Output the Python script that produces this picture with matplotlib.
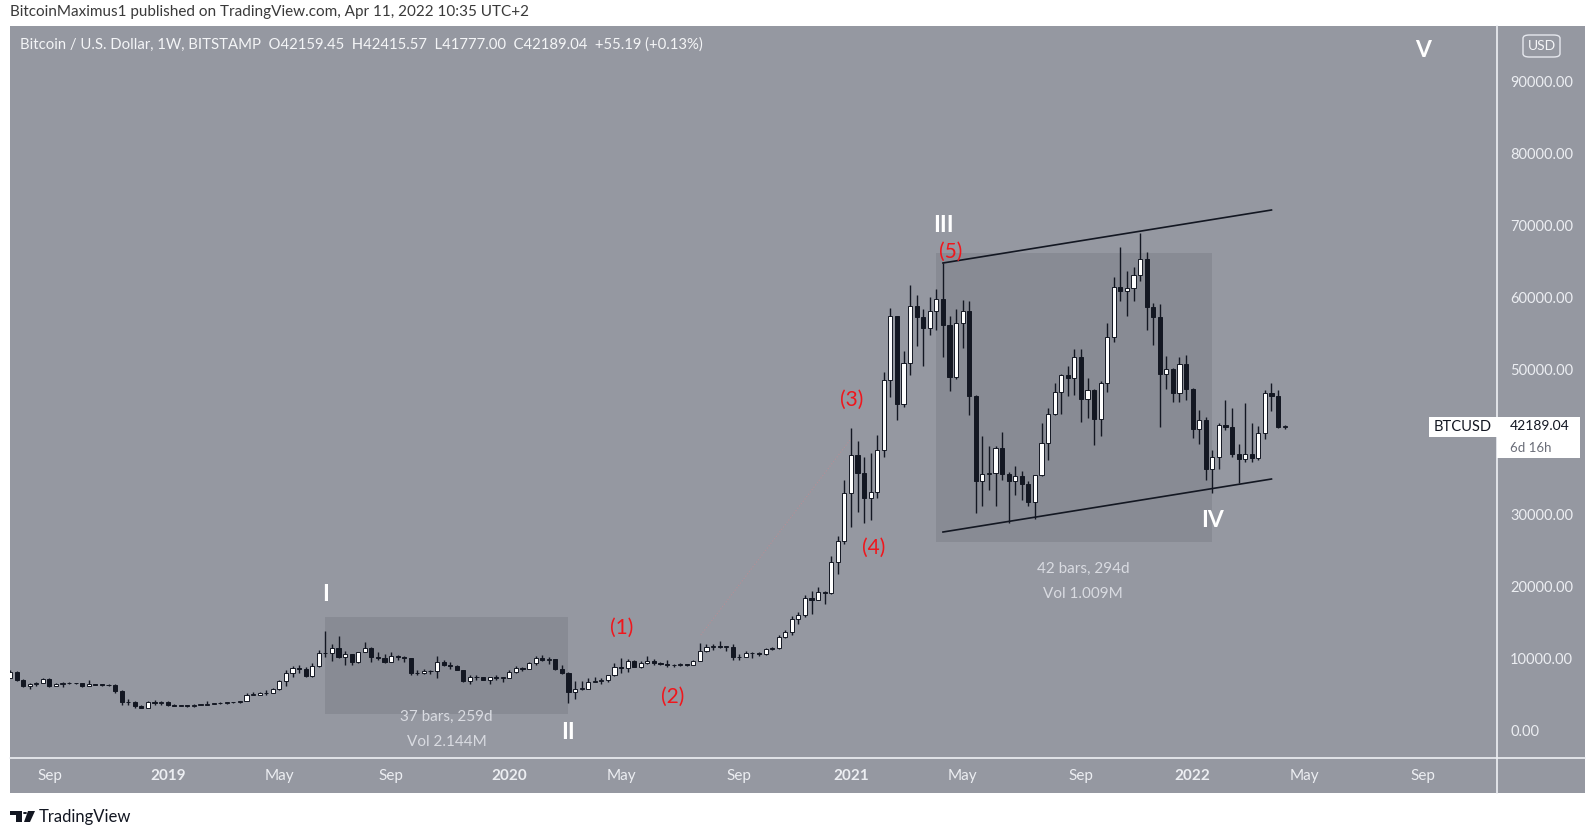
import matplotlib
matplotlib.use("Agg")
import matplotlib.pyplot as plt
import matplotlib.dates as mdates
from matplotlib.patches import Rectangle, FancyBboxPatch, Polygon, Circle
from matplotlib.lines import Line2D
import pandas as pd

plt.rcParams['font.family'] = ['Lato', 'DejaVu Sans']

# weekly BTCUSD candles (Bitstamp), first week starts 2018-07-23
start_week = "2018-07-23"
opens = [7400, 8200, 7030, 6300, 6450, 6700, 7270, 6250, 6500, 6700,
         6600, 6580, 6300, 6450, 6410, 6400, 6350, 5550, 3950, 4000,
         3400, 3230, 3950, 3850, 4050, 3550, 3530, 3540, 3410, 3630,
         3660, 3800, 3850, 3900, 3980, 3980, 4120, 5050, 5050, 5300,
         5250, 5750, 6980, 8100, 8700, 8650, 7650, 8950, 10750, 10850,
         11500, 10200, 10650, 9500, 10950, 11550, 10300, 10150, 9600, 10450,
         10300, 10050, 8050, 8000, 8350, 8250, 9550, 9200, 9050, 8500,
         6900, 7450, 7500, 7100, 7450, 7350, 7400, 8200, 8700, 8650,
         9350, 10150, 9900, 9950, 8550, 8050, 5400, 5880, 5880, 6770,
         6900, 7100, 7700, 8800, 8750, 9650, 8900, 9450, 9700, 9400,
         9300, 9150, 9100, 9250, 9200, 9700, 11050, 11650, 11750, 11650,
         11700, 10250, 10300, 10800, 10750, 10650, 11350, 11500, 13050, 13750,
         15450, 16000, 18400, 18200, 19300, 19150, 23450, 26250, 33000, 38200,
         35800, 32300, 33100, 38900, 48600, 57500, 45250, 50950, 58900, 57350,
         55800, 58200, 59850, 56250, 49050, 56550, 58200, 46400, 34600, 35600,
         35750, 39150, 35650, 34650, 35250, 34250, 31750, 35450, 39900, 43900,
         46900, 49300, 48850, 51800, 46000, 47250, 43200, 48200, 54600, 61500,
         60900, 61350, 63200, 65400, 58700, 57300, 49450, 50100, 46800, 50800,
         47350, 41850, 43100, 36300, 37950, 42450, 42100, 38300, 37700, 38400,
         37800, 41250, 46800, 46400, 42159.45]
highs = [8500, 8270, 7150, 6600, 6800, 7300, 7400, 6600, 6800, 6800,
         6650, 6700, 7000, 6500, 6480, 6550, 6480, 5630, 4400, 4150,
         3600, 4200, 4250, 4100, 4100, 3720, 3620, 3560, 3700, 3700,
         4200, 3900, 3950, 4000, 4070, 4150, 5300, 5450, 5360, 5650,
         5900, 7000, 8400, 8950, 9100, 8800, 9350, 11200, 13880, 12000,
         13200, 11100, 10700, 11000, 12300, 11600, 10950, 10600, 10900, 10500,
         10350, 10100, 8500, 8650, 8450, 10350, 9800, 9500, 9100, 8500,
         7800, 7700, 7500, 7500, 7700, 7500, 8450, 9000, 8800, 9600,
         10400, 10500, 10250, 9950, 9200, 8150, 6900, 6950, 7300, 7470,
         7300, 7770, 9460, 10060, 9950, 9880, 9700, 10400, 9980, 9600,
         9800, 9300, 9450, 9300, 9800, 12150, 12000, 12100, 12480, 11800,
         12100, 10650, 11100, 10950, 10950, 11500, 11700, 13350, 14000, 15950,
         16500, 18800, 19450, 19900, 19400, 24300, 27000, 34800, 41950, 40100,
         37900, 38550, 40950, 49700, 58600, 57500, 52600, 61750, 60450, 58400,
         60100, 61250, 64850, 57500, 58450, 59700, 59600, 46600, 40900, 39500,
         39500, 41400, 35900, 36700, 35950, 34600, 35500, 42600, 44800, 48150,
         49450, 50500, 52950, 52950, 48850, 47400, 48450, 56550, 62900, 67000,
         63700, 64300, 69000, 66300, 59300, 59100, 51900, 50300, 51800, 52100,
         47550, 44450, 43500, 38900, 42600, 45850, 44800, 39800, 45400, 42600,
         42300, 47200, 48200, 47200, 42415.57]
lows = [7350, 6900, 6150, 5880, 6300, 6650, 6150, 6200, 6100, 6450,
        6450, 6100, 6280, 6380, 6250, 6300, 5330, 3550, 3650, 3250,
        3200, 3200, 3550, 3650, 3500, 3500, 3450, 3380, 3370, 3560,
        3650, 3700, 3700, 3800, 3900, 3900, 4100, 4950, 5000, 5000,
        5200, 5700, 6200, 7500, 8000, 7450, 7500, 8900, 10300, 9700,
        10050, 9100, 9200, 9400, 10900, 9500, 9800, 9400, 9570, 9900,
        9600, 7700, 7800, 7850, 7850, 7300, 8950, 8650, 8400, 6800,
        6500, 7100, 7050, 6450, 7100, 6850, 7350, 8100, 8250, 8550,
        9100, 9700, 9300, 8400, 7850, 3850, 4450, 5700, 5860, 6750,
        6480, 6800, 7650, 8100, 8200, 8800, 8700, 9300, 9200, 9200,
        8850, 8900, 9050, 9050, 9150, 9650, 10950, 11150, 11500, 11100,
        9900, 9900, 10200, 10150, 10400, 10550, 11200, 11400, 12900, 13250,
        14800, 15800, 16200, 18100, 17600, 19000, 21800, 25900, 28200, 30300,
        28850, 29250, 32300, 37900, 46200, 43050, 44900, 49300, 53300, 50550,
        54850, 55500, 51800, 47100, 48700, 53000, 43800, 30200, 31200, 33400,
        31150, 34800, 28800, 32700, 32050, 31100, 29300, 35300, 37500, 43800,
        43950, 46400, 46600, 42850, 43400, 39650, 40800, 46900, 53850, 59500,
        57500, 59500, 62300, 55600, 53500, 42100, 47300, 45600, 45600, 45800,
        40600, 39700, 34700, 32950, 36300, 41650, 38000, 34350, 37200, 37200,
        37600, 40500, 44300, 42000, 41777.00]
closes = [8200, 7030, 6300, 6450, 6700, 7270, 6250, 6500, 6700, 6600,
          6580, 6300, 6450, 6410, 6400, 6350, 5550, 3950, 4000, 3400,
          3230, 3950, 3850, 4050, 3550, 3530, 3540, 3410, 3630, 3660,
          3800, 3850, 3900, 3980, 3980, 4120, 5050, 5050, 5300, 5250,
          5750, 6980, 8100, 8700, 8650, 7650, 8950, 10750, 10850, 11500,
          10200, 10650, 9500, 10950, 11550, 10300, 10150, 9600, 10450, 10300,
          10050, 8050, 8000, 8350, 8250, 9550, 9200, 9050, 8500, 6900,
          7450, 7500, 7100, 7450, 7350, 7400, 8200, 8700, 8650, 9350,
          10150, 9900, 9950, 8550, 8050, 5400, 5880, 5880, 6770, 6900,
          7100, 7700, 8800, 8750, 9650, 8900, 9450, 9700, 9400, 9300,
          9150, 9100, 9250, 9200, 9700, 11050, 11650, 11750, 11650, 11700,
          10250, 10300, 10800, 10750, 10650, 11350, 11500, 13050, 13750, 15450,
          16000, 18400, 18200, 19300, 19150, 23450, 26250, 33000, 38200, 35800,
          32300, 33100, 38900, 48600, 57500, 45250, 50950, 58900, 57350, 55800,
          58200, 59850, 56250, 49050, 56550, 58200, 46400, 34600, 35600, 35750,
          39150, 35650, 34650, 35250, 34250, 31750, 35450, 39900, 43900, 46900,
          49300, 48850, 51800, 46000, 47250, 43200, 48200, 54600, 61500, 60900,
          61350, 63200, 65400, 58700, 57300, 49450, 50100, 46800, 50800, 47350,
          41850, 43100, 36300, 37950, 42450, 42100, 38300, 37700, 38400, 37800,
          41250, 46800, 46400, 42150, 42189.04]

# price axis (40000 is hidden behind the last price label) and time axis labels
price_ticks = [0, 10000, 20000, 30000, 50000, 60000, 70000, 80000, 90000]
time_ticks = ["2018-09-03", "2019-01-07", "2019-05-06", "2019-09-02", "2020-01-06",
              "2020-05-04", "2020-09-07", "2021-01-04", "2021-05-03", "2021-09-06",
              "2022-01-03", "2022-05-02", "2022-09-05"]
time_labels = ["Sep", "2019", "May", "Sep", "2020", "May", "Sep", "2021",
               "May", "Sep", "2022", "May", "Sep"]

# drawings on the chart
wave_labels = ["I", "II", "III", "IV", "V"]
wave_dates = ["2019-06-24", "2020-03-09", "2021-04-12", "2022-01-24", "2022-09-05"]
wave_prices = [18840, -140, 70080, 29220, 94320]
sub_labels = ["(1)", "(2)", "(3)", "(4)", "(5)"]
sub_dates = ["2020-05-05", "2020-06-28", "2021-01-05", "2021-01-28", "2021-04-20"]
sub_prices = [14270, 4710, 45840, 25350, 66340]
range_starts = ["2019-06-24", "2021-04-05"]
range_ends = ["2020-03-09", "2022-01-24"]
range_tops = [15790, 66200]
range_bottoms = [2350, 26180]
range_text = [("37 bars, 259d", "Vol 2.144M"), ("42 bars, 294d", "Vol 1.009M")]
range_text_dates = ["2019-10-31", "2021-09-08"]
range_text_prices = [(1940, -1520), (22440, 18980)]
channel_dates = ["2021-04-12", "2022-03-28"]
channel_upper = [64820, 72160]
channel_lower = [27560, 34900]
faint_dates = ["2020-07-28", "2021-01-03"]
faint_prices = [13300, 40300]

BG = "#9598a1"
BOX = "#888b94"
DARK = "#131722"
W, H = 1596, 832


def fx(x):
    return x / W


def fy(y):
    return 1 - y / H


fig = plt.figure(figsize=(W / 100, H / 100), dpi=100, facecolor="white")
fig.patches.append(Rectangle((fx(10), fy(793)), 1575 / W, 767 / H, transform=fig.transFigure,
                             facecolor=BG, edgecolor="none", zorder=-10))
ax = fig.add_axes([fx(10), fy(758), 1487 / W, 732 / H])
ax.set_facecolor(BG)
for s in ax.spines.values():
    s.set_visible(False)

weeks = pd.date_range(start_week, periods=len(closes), freq="7D")
xs = mdates.date2num(weeks)
x0 = mdates.date2num(pd.Timestamp(start_week))
px_per_day = 0.9386
ax.set_xlim(x0, x0 + 1487 / px_per_day)
ax.set_ylim(-3740, 97645)

# range boxes
for s, e, t, b in zip(range_starts, range_ends, range_tops, range_bottoms):
    xa, xb = mdates.date2num(pd.Timestamp(s)), mdates.date2num(pd.Timestamp(e))
    ax.add_patch(Rectangle((xa, b), xb - xa, t - b, facecolor=BOX, edgecolor="none", zorder=1))
for (t1, t2), d, (p1, p2) in zip(range_text, range_text_dates, range_text_prices):
    xd = mdates.date2num(pd.Timestamp(d))
    ax.text(xd, p1, t1, ha="center", va="center", color="#d9dbe1", fontsize=11, zorder=5)
    ax.text(xd, p2, t2, ha="center", va="center", color="#d9dbe1", fontsize=11, zorder=5)

# faint line
ax.plot(mdates.date2num(pd.to_datetime(faint_dates)), faint_prices, color="#c98a90",
        lw=0.8, ls=":", alpha=0.6, zorder=2)

# candles
bw = 4.4
for x, o, h, l, c in zip(xs, opens, highs, lows, closes):
    ax.vlines(x, l, h, color=DARK, lw=1.0, zorder=3)
    lo, hi = min(o, c), max(o, c)
    ax.add_patch(Rectangle((x - bw / 2, lo), bw, max(hi - lo, 60),
                           facecolor="white" if c >= o else DARK,
                           edgecolor=DARK, lw=0.7, zorder=4))

# channel lines
cx = mdates.date2num(pd.to_datetime(channel_dates))
ax.plot(cx, channel_upper, color=DARK, lw=1.2, zorder=5)
ax.plot(cx, channel_lower, color=DARK, lw=1.2, zorder=5)

# wave labels
for t, d, p in zip(wave_labels, wave_dates, wave_prices):
    ax.text(mdates.date2num(pd.Timestamp(d)), p, t, ha="center", va="center",
            color="white", fontsize=16.5, fontweight="bold", zorder=6)
for t, d, p in zip(sub_labels, sub_dates, sub_prices):
    ax.text(mdates.date2num(pd.Timestamp(d)), p, t, ha="center", va="center",
            color="#f0161c", fontsize=15, zorder=6)

# axes ticks
ax.yaxis.tick_right()
ax.set_yticks(price_ticks)
ax.set_yticklabels([f"{v:.2f}" for v in price_ticks])
ax.tick_params(axis="y", length=0, pad=9.4, labelsize=10.5, labelcolor="#eceef2")
ax.set_xticks(mdates.date2num(pd.to_datetime(time_ticks)))
ax.set_xticklabels(time_labels)
ax.tick_params(axis="x", length=0, pad=8, labelsize=11, labelcolor="#eceef2")
for lab in ax.get_xticklabels():
    if lab.get_text().isdigit():
        lab.set_fontweight("bold")

# separators
fig.lines.append(Line2D([fx(1497), fx(1497)], [fy(26), fy(793)], transform=fig.transFigure,
                        color="#eef0f4", lw=1.2, zorder=8))
fig.lines.append(Line2D([fx(10), fx(1585)], [fy(758), fy(758)], transform=fig.transFigure,
                        color="#eef0f4", lw=1.2, zorder=8))

# header and legend
fig.text(fx(10), fy(12), "BitcoinMaximus1 published on TradingView.com, Apr 11, 2022 10:35 UTC+2",
         ha="left", va="center", color="#3a3a3a", fontsize=11)
fig.text(fx(20), fy(45),
         "Bitcoin / U.S. Dollar, 1W, BITSTAMP  O42159.45  H42415.57  L41777.00  C42189.04  +55.19 (+0.13%)",
         ha="left", va="center", color="#f4f5f7", fontsize=10.7)

# USD button
fig.patches.append(FancyBboxPatch((fx(1523), fy(57)), 37 / W, 22 / H, boxstyle="round,pad=0,rounding_size=0.004",
                                  transform=fig.transFigure, facecolor="none", edgecolor="#e6e8ee", lw=1,
                                  zorder=8))
fig.text(fx(1541.5), fy(46), "USD", ha="center", va="center", color="#f4f5f7", fontsize=10)

# last price labels
fig.patches.append(Rectangle((fx(1429), fy(437)), 68 / W, 20 / H, transform=fig.transFigure,
                             facecolor="white", edgecolor="none", zorder=8))
fig.patches.append(Rectangle((fx(1497), fy(458)), 83 / W, 41 / H, transform=fig.transFigure,
                             facecolor="white", edgecolor="none", zorder=8))
fig.text(fx(1463), fy(427), "BTCUSD", ha="center", va="center", color=DARK, fontsize=10.5, zorder=9)
fig.text(fx(1510), fy(426), f"{closes[-1]:.2f}", ha="left", va="center", color=DARK, fontsize=10, zorder=9)
fig.text(fx(1510), fy(448), "6d 16h", ha="left", va="center", color="#6a6d78", fontsize=9.5, zorder=9)

# TradingView footer
fig.patches.append(Polygon([(fx(10), fy(811)), (fx(22), fy(811)), (fx(22), fy(822)), (fx(16), fy(822)),
                            (fx(16), fy(815)), (fx(10), fy(815))], closed=True, transform=fig.transFigure,
                           facecolor=DARK, edgecolor="none"))
fig.patches.append(Circle((fx(25), fy(813)), 2 / W, transform=fig.transFigure, facecolor=DARK))
fig.patches.append(Polygon([(fx(28), fy(811)), (fx(35), fy(811)), (fx(30), fy(822)), (fx(24), fy(822))],
                           closed=True, transform=fig.transFigure, facecolor=DARK, edgecolor="none"))
fig.text(fx(39), fy(817), "TradingView", ha="left", va="center", color=DARK, fontsize=12)

fig.savefig("out.png", dpi=100, facecolor="white")
